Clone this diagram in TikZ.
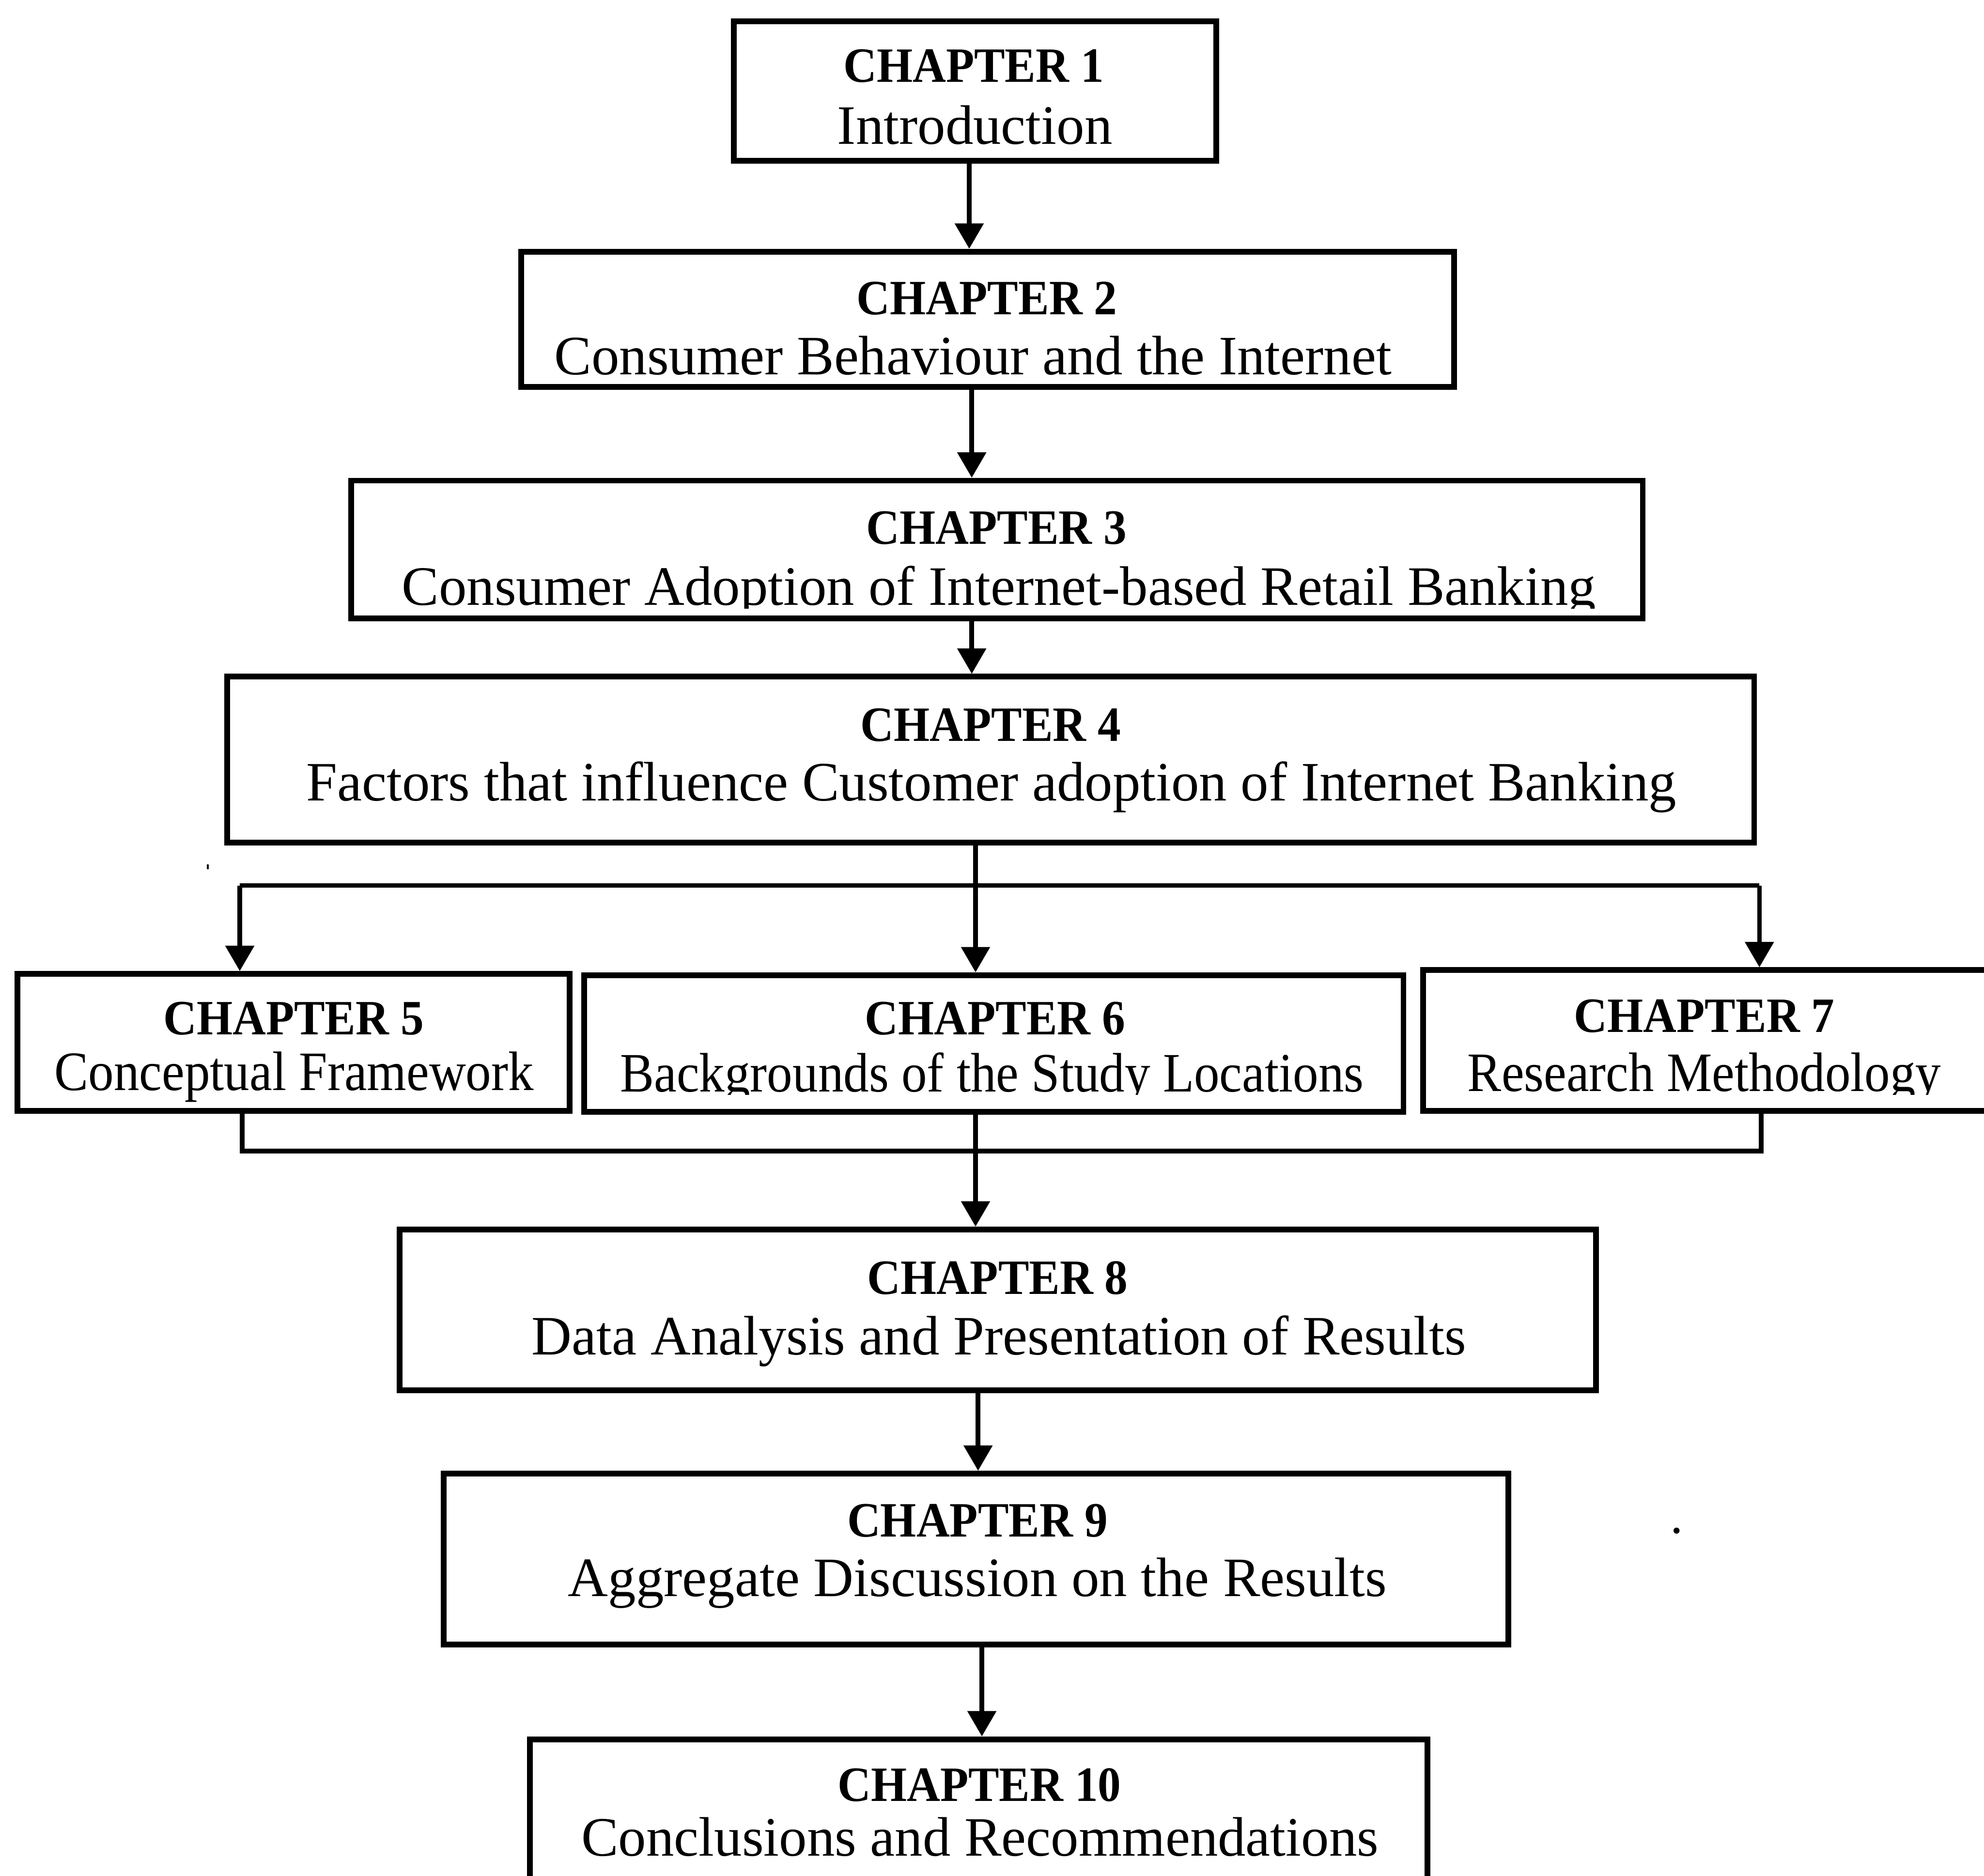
\documentclass[tikz,border=0pt]{standalone}
\usepackage{fontspec}
\setmainfont{Liberation Serif}
\newfontfamily\headfont[FakeStretch=0.935]{Liberation Serif}
\newfontfamily\narrowfont[FakeStretch=0.915]{Liberation Serif}
\usetikzlibrary{arrows.meta}

\tikzset{
  chapbox/.style={draw, line width=1.3pt, rectangle, inner sep=0pt},
  headtext/.style={anchor=base, inner sep=0pt, font={\headfont\bfseries\fontsize{11.1}{13}\selectfont}},
  titletext/.style={anchor=base, inner sep=0pt, font={\fontsize{12.5}{15}\selectfont}},
  narrowtitle/.style={anchor=base, inner sep=0pt, font={\narrowfont\fontsize{12.5}{15}\selectfont}},
  link/.style={line width=1.05pt, line join=miter},
  arr/.style={link, -{Triangle[width=6.3pt,length=5.7pt]}},
}

\begin{document}
\begin{tikzpicture}[x=0.01cm, y=-0.01cm]
  % page
  \fill[white] (0,0) rectangle (1568,1483);
  \useasboundingbox (0,0) rectangle (1568,1483);

  % chapter boxes
  \node[chapbox, minimum width=3.81cm, minimum height=1.10cm]  (c1)  at (770.5,72)    {};
  \node[chapbox, minimum width=7.37cm, minimum height=1.07cm]  (c2)  at (780.5,252.5) {};
  \node[chapbox, minimum width=10.20cm, minimum height=1.09cm] (c3)  at (788,434.5)   {};
  \node[chapbox, minimum width=12.06cm, minimum height=1.31cm] (c4)  at (783,600.5)   {};
  \node[chapbox, minimum width=4.36cm, minimum height=1.08cm]  (c5)  at (232,824)     {};
  \node[chapbox, minimum width=6.47cm, minimum height=1.08cm]  (c6)  at (785.5,825)   {};
  \node[chapbox, minimum width=4.46cm, minimum height=1.11cm]  (c7)  at (1348,822.5)  {};
  \node[chapbox, minimum width=9.45cm, minimum height=1.27cm]  (c8)  at (788.5,1035.5){};
  \node[chapbox, minimum width=8.41cm, minimum height=1.35cm]  (c9)  at (771.5,1232.5){};
  \node[chapbox, minimum width=7.09cm, minimum height=1.33cm]  (c10) at (773.5,1441.5){};

  % box texts
  \node[headtext]  (h1) at (769.5,65)   {CHAPTER 1};
  \node[titletext] (n1) at (770.5,114)  {Introduction};

  \node[headtext]  (h2) at (780,248.6)  {CHAPTER 2};
  \node[titletext] (n2) at (769,296)    {Consumer Behaviour and the Internet};

  \node[headtext]  (h3) at (787.5,430)  {CHAPTER 3};
  \begin{scope}
    \clip (0,0) rectangle (1568,481);
    \node[titletext] (n3) at (789.5,478.4) {Consumer Adoption of Internet-based Retail Banking};
  \end{scope}

  \node[headtext]  (h4) at (783,586)    {CHAPTER 4};
  \node[titletext] (n4) at (783.5,633)  {Factors that influence Customer adoption of Internet Banking};

  \node[headtext]    (h5) at (232,818)    {CHAPTER 5};
  \node[narrowtitle] (n5) at (232.5,862)  {Conceptual Framework};

  \node[headtext]  (h6) at (786.5,818)  {CHAPTER 6};
  \node[headtext]  (h7) at (1347,816)   {CHAPTER 7};
  \begin{scope}
    \clip (0,0) rectangle (1568,865.5);
    \node[narrowtitle] (n6) at (784,863)    {Backgrounds of the Study Locations};
    \node[narrowtitle] (n7) at (1347,862.8) {Research Methodology};
  \end{scope}

  \node[headtext]  (h8) at (788.5,1023) {CHAPTER 8};
  \node[titletext] (n8) at (789.5,1071) {Data Analysis and Presentation of Results};

  \node[headtext]  (h9) at (772.5,1215) {CHAPTER 9};
  \node[titletext] (n9) at (772.5,1262) {Aggregate Discussion on the Results};

  \node[headtext]  (h10) at (774,1424)  {CHAPTER 10};
  \node[titletext] (n10) at (774.5,1467) {Conclusions and Recommendations};

  % straight links
  \draw[arr] (c1.south -| 766,0) -- (c2.north -| 766,0);
  \draw[arr] (c2.south -| 768,0) -- (c3.north -| 768,0);
  \draw[arr] (c3.south -| 768,0) -- (c4.north -| 768,0);

  % split below chapter 4
  \coordinate (bl) at (189.5,700);
  \coordinate (bm) at (771,700);
  \coordinate (bR) at (1390.5,700);
  \draw[link] (c4.south -| bm) -- (bm);
  \draw[link] (bl) -- (bR);
  \draw[arr] (bl) -- (c5.north -| bl);
  \draw[arr] (bm) -- (c6.north -| bm);
  \draw[arr] (bR) -- (c7.north -| bR);

  % join below chapters 5-7
  \coordinate (ml) at (191.5,910);
  \coordinate (mr) at (1392,910);
  \draw[link] (c5.south -| ml) -- (ml) -- (mr) -- (c7.south -| mr);
  \draw[arr] (c6.south -| 771,0) -- (c8.north -| 771,0);

  \draw[arr] (c8.south -| 773,0) -- (c9.north -| 773,0);
  \draw[arr] (c9.south -| 776,0) -- (c10.north -| 776,0);

  % specks
  \fill (1325,1210) circle[radius=0.024cm];
  \fill (163.5,683.5) rectangle (165,687);
\end{tikzpicture}
\end{document}
